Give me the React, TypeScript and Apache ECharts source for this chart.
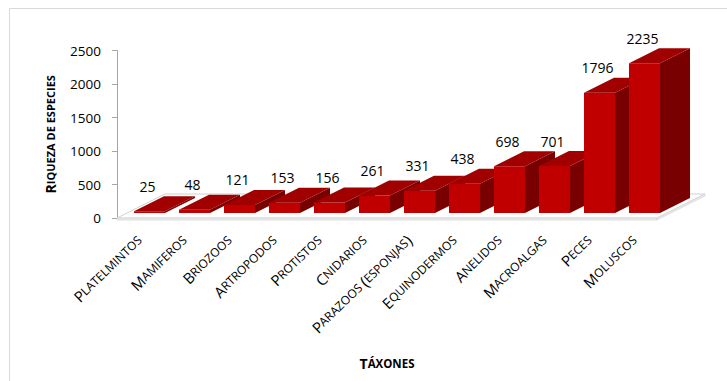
import React, { useEffect, useRef } from "react";
import * as echarts from "echarts";

const categories = [
  "Platelmintos",
  "Mamiferos",
  "Briozoos",
  "Artropodos",
  "Protistos",
  "Cnidarios",
  "Parazoos (esponjas)",
  "Equinodermos",
  "Anelidos",
  "Macroalgas",
  "Peces",
  "Moluscos",
];
const values = [25, 48, 121, 153, 156, 261, 331, 438, 698, 701, 1796, 2235];
const yMin = 0;
const yMax = 2500;
const yInterval = 500;
const yTitle = "Riqueza de especies";
const xTitle = "Táxones";

const FONT = "Open Sans";

// Render a string in "small caps": first letter large, the rest uppercase small.
function smallCaps(s: string): string {
  let out = "";
  for (let i = 0; i < s.length; i++) {
    const ch = s[i];
    const tag = i === 0 ? "a" : ch === "(" || ch === ")" ? "p" : "b";
    out += `{${tag}|${ch.toUpperCase()}}`;
  }
  return out;
}

const FRONT = "#c00000";
const TOP = "#a00000";
const SIDE = "#780000";

export default function App() {
  const ref = useRef<HTMLDivElement>(null);

  useEffect(() => {
    if (!ref.current) return;
    const chart = echarts.init(ref.current, undefined, { renderer: "svg" });

    const ox = 10; // bar front plane offset (depth)
    const oy = -5;
    const dx = 30; // bar depth
    const dy = -15;
    const fdx = 48; // floor depth
    const fdy = -24;

    const option: any = {
      animation: false,
      backgroundColor: "#ffffff",
      grid: {
        left: 117,
        top: 50.5,
        width: 540,
        height: 167.5,
        outerBoundsMode: "none",
        containLabel: false,
      },
      graphic: [
        {
          type: "rect",
          shape: { x: 9.5, y: 8.5, width: 1000, height: 1000 },
          style: { fill: "none", stroke: "#d9d9d9", lineWidth: 1 },
          silent: true,
          z: -10,
        },
      ],
      xAxis: {
        type: "category",
        data: categories,
        boundaryGap: true,
        axisLine: { show: false },
        axisTick: { show: false },
        splitLine: { show: false },
        axisLabel: {
          interval: 0,
          rotate: 44,
          margin: 20,
          color: "#000",
          formatter: (v: string) => smallCaps(v),
          rich: {
            a: { fontSize: 15, fontFamily: FONT, color: "#000" },
            b: { fontSize: 12, fontFamily: FONT, color: "#000" },
            p: { fontSize: 16, fontFamily: FONT, color: "#000" },
          },
        },
        name: smallCaps(xTitle),
        nameLocation: "middle",
        nameGap: 138,
        nameTextStyle: {
          rich: {
            a: { fontSize: 14, fontFamily: FONT, fontWeight: "bold", color: "#000" },
            b: { fontSize: 11.5, fontFamily: FONT, fontWeight: "bold", color: "#000" },
          },
        },
      },
      yAxis: {
        type: "value",
        min: yMin,
        max: yMax,
        interval: yInterval,
        axisLine: { show: true, lineStyle: { color: "#a6a6a6", width: 1 } },
        axisTick: { show: true, length: 5, lineStyle: { color: "#a6a6a6" } },
        splitLine: { show: false },
        axisLabel: {
          margin: 16,
          fontSize: 13.5,
          fontFamily: FONT,
          color: "#000",
          formatter: (v: number) => String(v),
        },
        name: smallCaps(yTitle),
        nameLocation: "middle",
        nameGap: 60,
        nameTextStyle: {
          rich: {
            a: { fontSize: 14, fontFamily: FONT, fontWeight: "bold", color: "#000" },
            b: { fontSize: 11, fontFamily: FONT, fontWeight: "bold", color: "#000" },
          },
        },
      },
      series: [
        {
          type: "custom",
          name: "floor",
          data: [[0, 0]],
          z: 1,
          silent: true,
          renderItem: (params: any) => {
            const cs = params.coordSys;
            const x0 = cs.x;
            const x1 = cs.x + cs.width;
            const y0 = cs.y + cs.height;
            return {
              type: "group",
              children: [
                {
                  type: "polygon",
                  shape: {
                    points: [
                      [x0, y0],
                      [x1, y0],
                      [x1 + fdx, y0 + fdy],
                      [x0 + fdx, y0 + fdy],
                    ],
                  },
                  style: { fill: "#ffffff", stroke: "#d0d0d0", lineWidth: 1 },
                },
                {
                  type: "polygon",
                  shape: {
                    points: [
                      [x0, y0],
                      [x1, y0],
                      [x1, y0 + 2],
                      [x0, y0 + 2],
                    ],
                  },
                  style: { fill: "#ececec", stroke: "#d0d0d0", lineWidth: 0.6 },
                },
                {
                  type: "polygon",
                  shape: {
                    points: [
                      [x1, y0],
                      [x1 + fdx, y0 + fdy],
                      [x1 + fdx, y0 + fdy + 2],
                      [x1, y0 + 2],
                    ],
                  },
                  style: { fill: "#ececec", stroke: "#d0d0d0", lineWidth: 0.6 },
                },
              ],
            };
          },
        },
        {
          type: "custom",
          name: "Riqueza",
          data: values.map((v, i) => [i, v]),
          z: 2,
          renderItem: (params: any, api: any) => {
            const i = api.value(0);
            const v = api.value(1);
            const top = api.coord([i, v]);
            const base = api.coord([i, 0]);
            const band = api.size([1, 0])[0];
            const w = band * 0.69;
            const x0 = base[0] - w / 2 + ox;
            const x1 = x0 + w;
            const yb = base[1] + oy;
            const yt = top[1] + oy;
            return {
              type: "group",
              children: [
                {
                  type: "polygon",
                  shape: {
                    points: [
                      [x1, yt],
                      [x1 + dx, yt + dy],
                      [x1 + dx, yb + dy],
                      [x1, yb],
                    ],
                  },
                  style: { fill: SIDE },
                },
                {
                  type: "rect",
                  shape: { x: x0, y: yt, width: w, height: yb - yt },
                  style: { fill: FRONT },
                },
                {
                  type: "polygon",
                  shape: {
                    points: [
                      [x0, yt],
                      [x1, yt],
                      [x1 + dx, yt + dy],
                      [x0 + dx, yt + dy],
                    ],
                  },
                  style: { fill: TOP },
                },
                {
                  type: "text",
                  z2: 100,
                  style: {
                    x: base[0] + ox - 2,
                    y: yt + dy - 10,
                    text: String(v),
                    fontSize: 14,
                    fontFamily: FONT,
                    fill: "#000",
                    align: "center",
                    verticalAlign: "middle",
                  },
                },
              ],
            };
          },
        },
      ],
    };

    chart.setOption(option);
    return () => chart.dispose();
  }, []);

  return (
    <div
      ref={ref}
      style={{ position: "fixed", left: 0, top: 0, width: 727, height: 381 }}
    />
  );
}
